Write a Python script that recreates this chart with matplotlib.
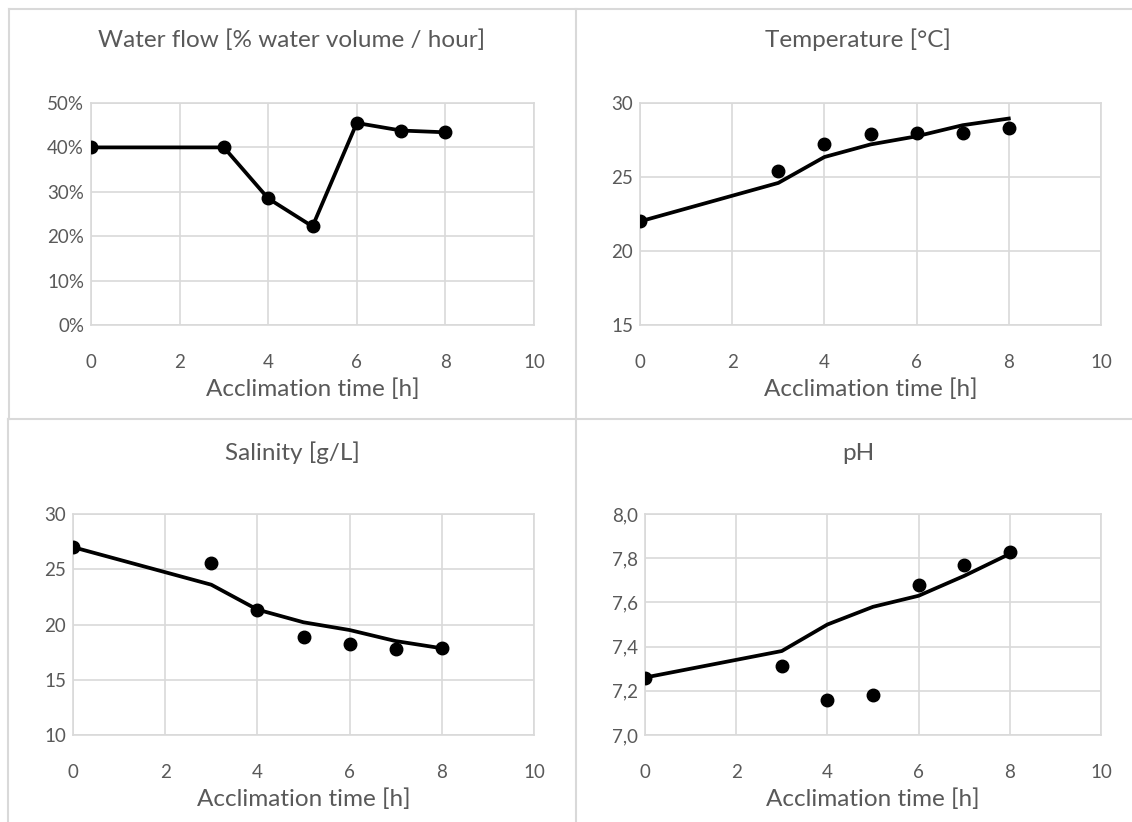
import matplotlib.pyplot as plt
from matplotlib.lines import Line2D
from matplotlib.ticker import FuncFormatter, MultipleLocator

plt.rcParams['font.family'] = ['Lato', 'DejaVu Sans']

# ---- DATA ----
hours = [0, 3, 4, 5, 6, 7, 8]

flow_pct = [40, 40, 28.5, 22.2, 45.5, 43.8, 43.4]

temp_obs = [22.0, 25.4, 27.2, 27.9, 28.0, 28.0, 28.3]
temp_fit = [22.0, 24.6, 26.35, 27.2, 27.75, 28.5, 28.95]

sal_obs = [27.0, 25.6, 21.3, 18.9, 18.2, 17.8, 17.9]
sal_fit = [27.0, 23.6, 21.35, 20.2, 19.5, 18.5, 17.85]

ph_obs = [7.26, 7.31, 7.16, 7.18, 7.68, 7.77, 7.83]
ph_fit = [7.26, 7.38, 7.50, 7.58, 7.63, 7.72, 7.82]

titles = ["Water flow [% water volume / hour]", "Temperature [°C]",
          "Salinity [g/L]", "pH"]
xlabel = "Acclimation time [h]"

W, H = 1132, 822
TXT = '#595959'
GRID = '#D9D9D9'

fig = plt.figure(figsize=(W / 100, H / 100), dpi=100)


def px_axes(x0, x1, y0, y1):
    # pixel box -> figure fraction
    return fig.add_axes([x0 / W, 1 - y1 / H, (x1 - x0) / W, (y1 - y0) / H])


def style(ax, ylim, ystep, fmt, title, cx, ty):
    ax.set_xlim(0, 10)
    ax.set_ylim(*ylim)
    ax.xaxis.set_major_locator(MultipleLocator(2))
    ax.yaxis.set_major_locator(MultipleLocator(ystep))
    ax.yaxis.set_major_formatter(FuncFormatter(fmt))
    ax.grid(True, color=GRID, lw=1.2, zorder=0)
    ax.set_axisbelow(True)
    for s in ax.spines.values():
        s.set_color(GRID)
        s.set_linewidth(1.2)
    ax.tick_params(length=0, labelsize=13.5, colors=TXT)
    ax.tick_params(axis='x', pad=21)
    ax.tick_params(axis='y', pad=5)
    ax.set_xlabel(xlabel, fontsize=17.5, color=TXT, labelpad=5)
    fig.text(cx / W, 1 - ty / H, title, fontsize=17.5, color=TXT,
             ha='center', va='center')


# top-left: water flow
ax1 = px_axes(91, 534, 103, 325)
ax1.plot(hours, flow_pct, color='black', lw=2.7, marker='o', ms=9, zorder=3)
style(ax1, (0, 50), 10, lambda v, p: f"{v:.0f}%", titles[0], 292, 40)

# top-right: temperature
ax2 = px_axes(640, 1101, 103, 325)
ax2.plot(hours, temp_fit, color='black', lw=2.7, zorder=3)
ax2.plot(hours, temp_obs, 'o', color='black', ms=9, zorder=4)
style(ax2, (15, 30), 5, lambda v, p: f"{v:.0f}", titles[1], 858, 40)

# bottom-left: salinity
ax3 = px_axes(73, 534, 514, 735)
ax3.plot(hours, sal_fit, color='black', lw=2.7, zorder=3)
ax3.plot(hours, sal_obs, 'o', color='black', ms=9, zorder=4)
style(ax3, (10, 30), 5, lambda v, p: f"{v:.0f}", titles[2], 292, 453)

# bottom-right: pH
ax4 = px_axes(645, 1101, 514, 735)
ax4.plot(hours, ph_fit, color='black', lw=2.7, zorder=3)
ax4.plot(hours, ph_obs, 'o', color='black', ms=9, zorder=4)
style(ax4, (7.0, 8.0), 0.2, lambda v, p: f"{v:.1f}".replace('.', ','),
      titles[3], 858, 453)

# chart area borders
for (x0, y0, x1, y1) in [(9, 9, W, 9), (9, 9, 9, 419), (8, 419, W, 419),
                         (576, 9, 576, H), (8, 419, 8, H)]:
    fig.add_artist(Line2D([x0 / W, x1 / W], [1 - y0 / H, 1 - y1 / H],
                          color=GRID, lw=1.5, transform=fig.transFigure))

fig.savefig("out.png", dpi=100)
